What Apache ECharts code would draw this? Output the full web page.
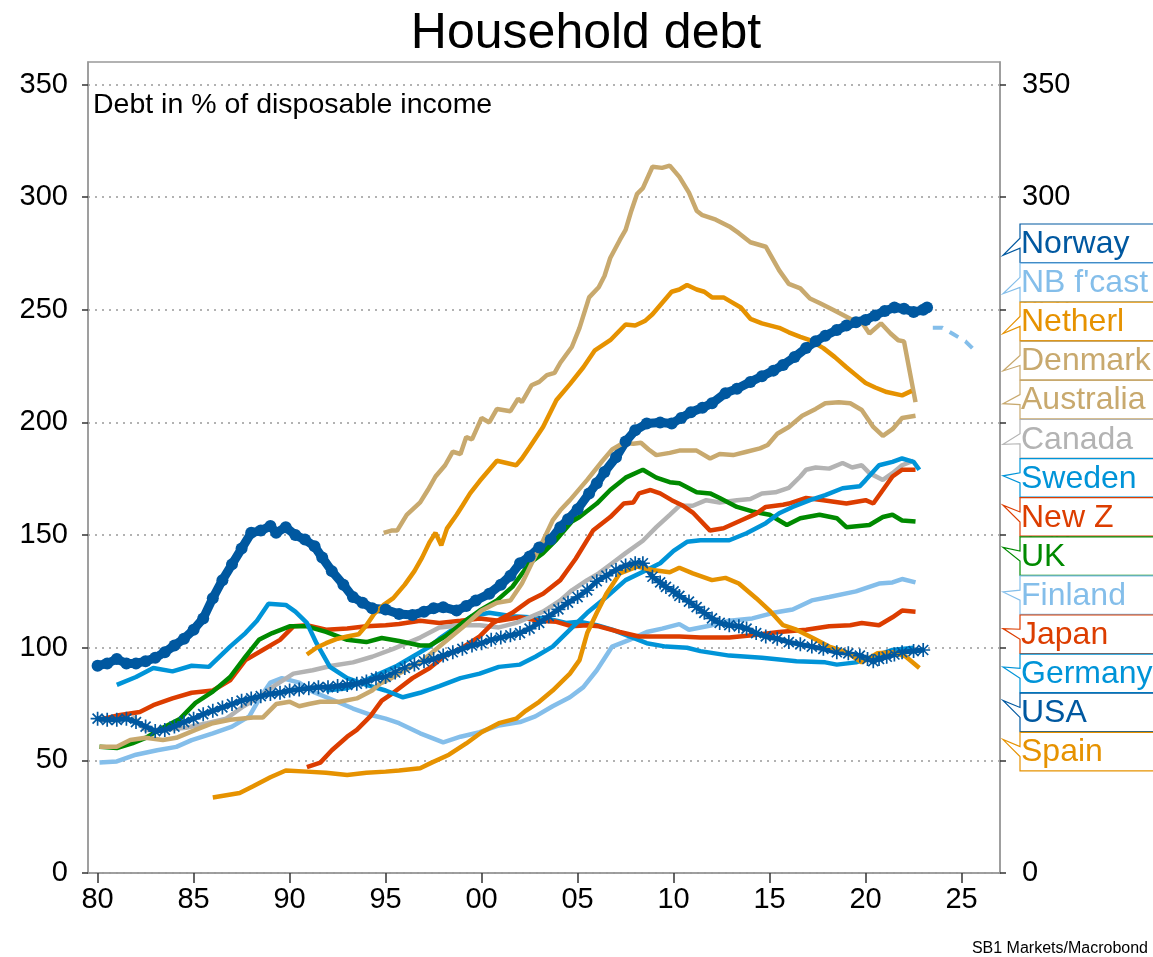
<!DOCTYPE html>
<html>
<head>
<meta charset="utf-8">
<script src="https://cdn.jsdelivr.net/npm/echarts@6/dist/echarts.min.js"></script>
<style>
html,body{margin:0;padding:0;background:#fff;}
#c{width:1153px;height:957px;}
</style>
</head>
<body>
<div id="c"></div>
<script>
// ---------- data ([year, % of disposable income]) ----------
const norway = [[1980.0,92],[1980.5,93],[1981.0,95],[1981.5,93],[1982.0,93],[1982.5,94],[1983.0,95.5],[1983.5,98],[1984.0,101],[1984.5,104],[1985.0,108],[1985.5,113],[1986.0,122],[1986.5,130],[1987.0,137],[1987.5,144],[1988.0,151],[1988.5,152],[1989.0,154],[1989.3,151],[1989.8,153.5],[1990.3,150],[1990.8,148],[1991.3,145],[1991.7,140],[1992.2,134],[1992.8,128],[1993.3,122.5],[1993.8,120],[1994.3,117.5],[1995.0,117],[1995.7,115],[1996.4,114.5],[1997.0,116],[1997.5,117.5],[1998.0,118],[1998.7,116.5],[1999.2,118.5],[1999.7,121],[2000.4,124],[2001.0,128],[2001.5,132],[2002.0,137.5],[2002.5,140.5],[2003.0,144.5],[2003.6,148],[2004.1,153.5],[2004.5,157],[2005.0,161.5],[2005.6,168.5],[2006.0,173],[2006.4,178],[2007.0,184.5],[2007.5,191.5],[2008.0,196.5],[2008.6,199.5],[2009.3,200],[2009.9,199.5],[2010.4,202],[2010.9,204.5],[2011.5,206.5],[2012.0,208.5],[2012.7,213],[2013.3,215],[2014.0,218],[2014.6,220.5],[2015.2,223],[2015.7,225.5],[2016.3,229],[2016.9,233],[2017.4,236],[2017.9,238.5],[2018.5,241],[2019.0,243],[2019.5,244.5],[2020.0,245.5],[2020.5,247.5],[2021.0,249.5],[2021.5,251],[2022.0,250.5],[2022.5,249],[2023.0,250],[2023.2,251]];
const nbForecast = [[2023.5,242],[2024.0,242],[2024.6,239],[2025.2,236],[2025.8,231]];
const netherlands = [[1990.9,97],[1991.4,100],[1991.9,102],[1992.5,104],[1993.0,105],[1993.6,106],[1994.0,110],[1994.4,115],[1994.9,119],[1995.4,122],[1996.0,128],[1996.5,134],[1996.9,140],[1997.3,147],[1997.6,151],[1997.9,145.5],[1998.2,153],[1998.7,159],[1999.0,163],[1999.4,168.5],[1999.9,174],[2000.4,179],[2000.8,183],[2001.3,182],[2001.8,181],[2002.1,184],[2002.5,189],[2003.2,198],[2003.9,210],[2004.6,217],[2005.3,224.5],[2005.9,232],[2006.7,236.5],[2007.5,243.5],[2008.0,243],[2008.5,245],[2008.9,248],[2009.4,253],[2009.9,258],[2010.3,259],[2010.7,261],[2011.2,259],[2011.6,258],[2012.0,255.5],[2012.6,255.5],[2013.0,253.5],[2013.5,251],[2014.0,246],[2014.6,244],[2015.5,242],[2016.0,240],[2016.6,238],[2017.1,236.5],[2017.8,233],[2018.4,229],[2019.0,224.5],[2019.5,221],[2020.0,217.5],[2020.5,215.5],[2021.1,213.5],[2021.9,212],[2022.4,214]];
const denmark = [[1994.9,151],[1995.3,152],[1995.6,152],[1996.1,159],[1996.8,164.5],[1997.2,170],[1997.6,176],[1998.1,181],[1998.5,187],[1998.9,186],[1999.2,193.5],[1999.5,192.5],[2000.0,202],[2000.4,200],[2000.8,206],[2001.5,205],[2001.9,210.5],[2002.1,209],[2002.6,216.5],[2003.0,218],[2003.4,221],[2003.8,222],[2004.1,226.5],[2004.7,233.5],[2005.1,242],[2005.6,255.5],[2006.1,260],[2006.4,265],[2006.7,273],[2007.2,281],[2007.5,285.5],[2007.8,294],[2008.1,301.5],[2008.4,304],[2008.9,313.5],[2009.4,313],[2009.8,314],[2010.3,309],[2010.8,302],[2011.2,294],[2011.5,292],[2012.2,290],[2012.9,287],[2013.4,284],[2014.0,280],[2014.8,278],[2015.5,267.5],[2016.0,261.5],[2016.6,259.5],[2017.1,255],[2017.6,253],[2018.3,250],[2019.2,246],[2019.8,244.5],[2020.2,239.5],[2020.8,244],[2021.3,239.5],[2021.7,236.5],[2022.0,236],[2022.6,209]];
const australia = [[1980.1,56],[1981.0,56],[1981.7,59],[1982.5,60],[1983.4,59],[1984.1,60],[1985.1,63.5],[1986.0,66.5],[1986.9,68],[1988.1,69],[1988.6,69],[1989.3,75],[1990.0,76],[1990.5,74],[1991.0,75],[1991.6,76],[1992.6,76],[1993.5,77.5],[1994.3,81],[1994.7,84],[1995.2,86],[1995.7,88.5],[1996.8,93.5],[1997.8,100.5],[1999.0,109],[2000.0,116.5],[2000.8,120],[2001.5,121],[2002.1,128.5],[2002.7,139],[2003.2,147.5],[2003.7,156.5],[2004.1,161],[2004.6,165.5],[2005.5,174.5],[2006.3,183],[2006.8,188],[2007.4,191],[2007.9,190.5],[2008.3,191],[2008.7,188],[2009.1,185.5],[2009.8,186.5],[2010.3,187.5],[2011.2,187.5],[2011.9,184],[2012.4,186],[2013.1,185.5],[2013.8,187],[2014.5,188.5],[2014.9,190],[2015.4,195],[2016.0,198],[2016.7,203],[2017.4,206],[2017.9,208.5],[2018.6,209],[2019.2,208.5],[2019.8,205.5],[2020.4,198],[2020.9,194],[2021.4,197],[2021.9,202],[2022.6,203]];
const canada = [[1981.8,69.5],[1982.5,63.5],[1983.4,63.5],[1984.6,64.5],[1985.7,66.5],[1986.7,68.5],[1987.6,74],[1988.4,78],[1989.1,82.5],[1990.2,88.5],[1991.2,90],[1992.2,92],[1993.3,93.5],[1994.3,96],[1995.4,99.5],[1996.8,104.5],[1997.8,109],[1998.9,110],[1999.9,110],[2000.9,109],[2001.8,111],[2002.5,113.5],[2003.2,116],[2004.1,121],[2004.7,125.5],[2005.5,130],[2006.1,133],[2006.8,137.5],[2007.5,142],[2008.4,147.5],[2009.1,153.5],[2009.8,159],[2010.3,163],[2011.0,163],[2011.7,165.5],[2012.4,164.5],[2013.3,165.5],[2014.0,166],[2014.6,168.5],[2015.3,169],[2016.0,171],[2016.6,176],[2016.9,179],[2017.4,180],[2018.1,179.5],[2018.8,182],[2019.3,180],[2019.8,181],[2020.2,177.5],[2020.9,174.5],[2021.4,177.5],[2021.9,181],[2022.5,183]];
const sweden = [[1981.0,83.5],[1982.0,87],[1982.9,91],[1983.9,89.5],[1984.9,92],[1985.8,91.5],[1986.9,100.5],[1987.7,106.5],[1988.3,112],[1988.9,119.5],[1989.8,119],[1990.3,116],[1990.9,111],[1991.4,102],[1992.1,91.5],[1993.0,86.5],[1994.0,83.5],[1995.0,81],[1995.9,78],[1996.8,80],[1997.8,83],[1998.9,86.5],[1999.9,88.5],[2000.9,91.5],[2002.0,92.5],[2002.8,96],[2003.7,100.5],[2004.6,108],[2005.5,115.5],[2006.5,122.5],[2007.5,130],[2008.6,134.5],[2009.3,137.5],[2010.0,143],[2010.7,147],[2011.4,147.7],[2012.9,147.7],[2013.8,150.8],[2014.8,155.3],[2015.5,159.7],[2016.2,162.5],[2017.1,165.5],[2017.9,167.7],[2018.8,170.8],[2019.7,171.7],[2020.0,174.4],[2020.7,181],[2021.4,182.5],[2021.9,184],[2022.5,182.5],[2022.8,179]];
const newZealand = [[1990.9,47],[1991.6,49],[1992.2,54.5],[1993.0,60.5],[1993.5,63.5],[1994.2,69.5],[1994.8,76.5],[1995.4,80],[1996.4,86.5],[1997.3,91],[1998.1,96.5],[1999.0,100],[1999.9,105],[2000.6,111],[2001.6,115.5],[2002.5,121],[2003.2,124],[2004.1,130],[2004.9,139.5],[2005.8,152],[2006.7,158],[2007.4,164],[2007.9,164.5],[2008.2,168.5],[2008.8,170],[2009.3,168.5],[2009.9,165.5],[2010.5,163],[2011.0,160],[2011.9,152],[2012.6,153],[2013.5,156.5],[2014.3,159.5],[2014.8,162.5],[2015.7,163.5],[2016.0,164],[2016.9,166.5],[2017.8,165.5],[2019.0,164],[2020.0,165.5],[2020.4,164],[2020.9,170],[2021.4,176],[2021.9,179],[2022.6,179]];
const uk = [[1980.1,56],[1981.0,55.5],[1981.8,57.5],[1982.5,60],[1983.4,64.5],[1984.3,68.5],[1985.1,75.5],[1986.0,80.5],[1986.9,87],[1987.7,96],[1988.4,103.5],[1989.1,106.5],[1990.0,109.5],[1990.9,109.5],[1991.9,107],[1993.0,103.5],[1994.0,102.5],[1994.8,104.3],[1995.7,103],[1996.8,101],[1997.3,101],[1998.1,105],[1999.0,111],[1999.9,116.5],[2000.8,121],[2001.6,127],[2002.5,137.5],[2003.2,142],[2003.9,148],[2004.7,156],[2005.1,158],[2006.0,164],[2006.7,170],[2007.5,175.5],[2008.4,179],[2009.1,175.5],[2009.8,173.5],[2010.3,173],[2011.2,169],[2011.9,168.5],[2012.4,166.5],[2013.3,162.5],[2014.1,160.5],[2015.0,159],[2015.9,154.5],[2016.6,157.5],[2017.6,159],[2018.5,157.5],[2019.0,153.5],[2020.2,154.5],[2020.9,158],[2021.4,159],[2021.9,156.5],[2022.6,156]];
const finland = [[1980.1,49],[1981.0,49.5],[1982.0,52.5],[1983.1,54.5],[1984.1,56],[1984.9,59],[1986.0,62],[1987.0,65],[1987.9,69.5],[1988.4,77],[1989.0,84.5],[1989.6,86.5],[1990.5,84.5],[1991.2,80.5],[1992.2,77],[1993.3,73],[1994.3,70],[1995.0,68.5],[1995.7,66.5],[1996.8,62],[1998.0,58],[1998.9,60.5],[1999.9,62.5],[2000.9,65.5],[2002.0,67],[2002.8,69.5],[2003.7,74],[2004.6,78],[2005.3,82.5],[2006.0,90],[2006.8,100.5],[2007.7,103.5],[2008.6,107],[2009.4,108.5],[2010.3,110.5],[2010.8,108],[2012.0,110],[2012.9,112],[2014.1,113],[2015.2,115.5],[2016.2,117],[2017.2,121],[2018.1,122.5],[2019.5,125],[2020.0,126.5],[2020.7,128.5],[2021.4,129],[2021.9,130.5],[2022.6,129]];
const japan = [[1980.1,68],[1981.1,70],[1982.2,71.5],[1982.9,74.5],[1983.9,77.5],[1984.9,80],[1986.0,81],[1986.9,85.5],[1987.7,94.5],[1988.6,99],[1989.5,103.5],[1990.2,109.5],[1990.9,110],[1991.9,108],[1993.0,108.5],[1994.0,109.5],[1995.0,110],[1995.7,110.5],[1996.8,112],[1997.8,111],[1998.9,112],[1999.9,113],[2000.9,112],[2002.0,113.5],[2003.0,112],[2003.9,111.5],[2004.7,109.5],[2005.5,110],[2006.1,109.5],[2007.2,107],[2008.2,105],[2009.3,105],[2010.3,105],[2011.4,104.5],[2012.9,104.5],[2014.1,105.5],[2015.5,107],[2016.9,108],[2018.1,109.5],[2019.2,110],[2019.8,111],[2020.7,110],[2021.4,113.5],[2021.9,116.5],[2022.6,116]];
const germany = [[1991.9,81],[1993.0,82],[1993.8,85],[1994.7,88.5],[1995.6,92],[1996.4,96],[1997.3,100.5],[1997.8,104],[1998.9,110.5],[1999.5,114],[2000.4,115.5],[2001.6,114],[2002.5,113.5],[2003.4,113],[2004.4,111],[2005.1,111.5],[2006.0,110],[2006.8,108],[2007.7,105],[2008.6,102],[2009.6,100.5],[2010.7,100],[2011.4,98.5],[2012.9,96.5],[2014.6,95.5],[2016.4,94],[2017.9,93.5],[2018.5,92.5],[2019.5,93.5],[2020.4,96],[2021.4,99],[2022.5,100]];
const usa = [[1980.0,68.5],[1980.5,68],[1981.0,68],[1981.5,68.5],[1982.0,67],[1982.5,65],[1983.0,63],[1983.5,63.5],[1984.0,65],[1984.5,67],[1985.0,68.5],[1985.5,70.5],[1986.0,72],[1986.5,73.5],[1987.0,75],[1987.5,76.5],[1988.0,77.5],[1988.5,78.5],[1989.0,79.5],[1989.5,80],[1990.0,81],[1990.5,81.5],[1991.0,82],[1991.5,82.5],[1992.0,82.5],[1992.5,83],[1993.0,83.5],[1993.5,84],[1994.0,85],[1994.5,86.5],[1995.0,87],[1995.5,89],[1996.0,91],[1996.5,92.5],[1997.0,94],[1997.5,95],[1998.0,96.5],[1998.5,98],[1999.0,99.5],[1999.5,101],[2000.0,102],[2000.5,103.5],[2001.0,104.5],[2001.5,105.5],[2002.0,106.5],[2002.5,108.5],[2003.0,111],[2003.5,114],[2004.0,117],[2004.5,120],[2005.0,122.5],[2005.5,125.5],[2006.0,129.5],[2006.5,132],[2007.0,134.5],[2007.5,136.5],[2008.0,137.5],[2008.4,137.5],[2008.9,131.5],[2009.3,129],[2009.6,127],[2010.0,125],[2010.3,123],[2010.8,120.5],[2011.2,118],[2011.6,115.5],[2012.0,113],[2012.4,111],[2012.9,110],[2013.4,109.5],[2013.8,108.5],[2014.3,106.5],[2014.8,105],[2015.4,104],[2016.0,102.5],[2016.6,101.5],[2017.2,100.5],[2017.8,99.5],[2018.5,98],[2019.1,97.5],[2019.7,96.5],[2020.1,95],[2020.4,94],[2020.7,95],[2021.1,96],[2021.5,97],[2021.9,98],[2022.5,98.5],[2023.0,99]];
const spain = [[1986.0,33.5],[1986.7,34.5],[1987.4,35.5],[1988.1,38.5],[1989.0,42.5],[1989.8,45.5],[1990.9,45],[1991.9,44.5],[1993.0,43.5],[1994.0,44.5],[1995.0,45],[1995.7,45.5],[1996.8,46.5],[1997.4,49],[1998.3,52.5],[1999.2,57.5],[2000.0,62.5],[2000.9,66.5],[2001.8,68.5],[2002.3,72],[2003.0,76],[2003.7,81],[2004.6,88.5],[2005.1,94.5],[2005.5,106.5],[2006.0,115.5],[2006.5,124],[2007.2,133],[2008.1,136],[2008.9,134.5],[2009.8,133.5],[2010.3,135.5],[2011.0,133],[2012.0,130],[2012.7,131],[2013.4,128.5],[2014.3,122],[2015.0,116.5],[2015.7,110],[2016.4,108],[2017.2,104.5],[2018.1,100.5],[2019.0,98],[2019.8,93.5],[2020.6,97.5],[2021.4,98],[2022.1,96],[2022.8,91]];

const xTicks = [1980,1985,1990,1995,2000,2005,2010,2015,2020,2025];
const yTicks = [0,50,100,150,200,250,300,350];
const labelNames = ["Norway","NB f'cast","Netherl","Denmark","Australia","Canada","Sweden","New Z","UK","Finland","Japan","Germany","USA","Spain"];

// ---------- styling ----------
const FONT = '"Liberation Sans", Arial, sans-serif';
const C = {
  norway:'#0058A0', nb:'#84BEEA', neth:'#E69200', tan:'#C8A96E', canada:'#B3B3B3',
  sweden:'#0094D8', red:'#DC3D00', green:'#008A00', finland:'#84BEEA', germany:'#0094D8',
  usa:'#0058A0', spain:'#E69200'
};
const asterisk = 'path://M0 8.8H20V11.2H0Z M8.8 0H11.2V20H8.8Z M2 3.7L3.7 2L18 16.3L16.3 18Z M16.3 2L18 3.7L3.7 18L2 16.3Z';

function line(name, data, color, extra) {
  return Object.assign({
    name, type:'line', data, showSymbol:false, symbol:'none',
    lineStyle:{color, width:4.5}, itemStyle:{color}, animation:false, silent:true
  }, extra || {});
}

const seriesDefs = {
  "Norway": line('Norway', norway, C.norway, {showSymbol:true, symbol:'circle', symbolSize:12, lineStyle:{color:C.norway, width:9}}),
  "NB f'cast": line("NB f'cast", nbForecast, C.nb, {lineStyle:{color:C.nb, width:4, type:[10,8]}}),
  "Finland": line('Finland', finland, C.finland),
  "Germany": line('Germany', germany, C.germany),
  "Japan": line('Japan', japan, C.red),
  "Canada": line('Canada', canada, C.canada),
  "UK": line('UK', uk, C.green),
  "New Z": line('New Z', newZealand, C.red),
  "Sweden": line('Sweden', sweden, C.sweden),
  "USA": line('USA', usa, C.usa, {showSymbol:true, symbol:asterisk, symbolSize:14, lineStyle:{color:C.usa, width:5}}),
  "Australia": line('Australia', australia, C.tan),
  "Denmark": line('Denmark', denmark, C.tan),
  "Netherl": line('Netherl', netherlands, C.neth),
  "Spain": line('Spain', spain, C.spain)
};
const drawOrder = ["Norway","NB f'cast","Finland","Germany","Japan","Canada","UK","New Z","Sweden","USA","Australia","Denmark","Netherl","Spain"];

const chart = echarts.init(document.getElementById('c'), null, {renderer:'canvas'});

const axisLabelStyle = {color:'#000', fontSize:29, fontFamily:FONT};
chart.setOption({
  backgroundColor:'#fff',
  animation:false,
  grid:{left:88, right:153, top:62, bottom:84, show:true, borderColor:'#999', borderWidth:1.5, backgroundColor:'transparent'},
  xAxis:{
    type:'value', min:1979.5, max:2027,
    axisLine:{show:true, lineStyle:{color:'#999', width:1.5}},
    axisTick:{show:true, customValues:xTicks, length:10, lineStyle:{color:'#333', width:1.5}},
    axisLabel:Object.assign({customValues:xTicks, margin:12, formatter:v=>String(v%100).padStart(2,'0')}, axisLabelStyle),
    splitLine:{show:false}
  },
  yAxis:[{
    type:'value', min:0, max:360, position:'left',
    axisLine:{show:true, lineStyle:{color:'#999', width:1.5}},
    axisTick:{show:true, customValues:yTicks, length:6, lineStyle:{color:'#333', width:1.5}},
    axisLabel:Object.assign({customValues:yTicks, margin:20}, axisLabelStyle),
    splitLine:{show:true, lineStyle:{color:'#999', width:1.5, type:[2,5]}}
  },{
    type:'value', min:0, max:360, position:'right',
    axisLine:{show:true, lineStyle:{color:'#999', width:1.5}},
    axisTick:{show:true, customValues:yTicks, length:6, lineStyle:{color:'#333', width:1.5}},
    axisLabel:Object.assign({customValues:yTicks, margin:22}, axisLabelStyle),
    splitLine:{show:false}
  }],
  series: drawOrder.map(n => seriesDefs[n])
});

// ---------- text and flag labels ----------
const graphics = [
  {type:'text', x:586, y:34, z:200, style:{text:'Household debt', font:'50px '+FONT, fill:'#000', textAlign:'center', textVerticalAlign:'middle', align:'center', verticalAlign:'middle'}},
  {type:'text', x:93, y:105, z:200, style:{text:'Debt in % of disposable income', font:'28.5px '+FONT, fill:'#000', textAlign:'left', textVerticalAlign:'middle', align:'left', verticalAlign:'middle'}},
  {type:'text', x:1148, y:949, z:200, style:{text:'SB1 Markets/Macrobond', font:'16px '+FONT, fill:'#000', textAlign:'right', textVerticalAlign:'middle', align:'right', verticalAlign:'middle'}}
];
const boxLeft = 1020, tipX = 1003, boxTop0 = 224, boxStep = 39.1, boxH = 38.5;
labelNames.forEach((name, i) => {
  const s = seriesDefs[name];
  const d = s.data;
  const refVal = name === "NB f'cast" ? d[0][1] : d[d.length-1][1];
  const vy = chart.convertToPixel({yAxisIndex:0}, refVal);
  const top = boxTop0 + i*boxStep, bot = top + boxH, c = (top+bot)/2;
  const off = Math.max(-12, Math.min(12, (vy - c)*0.25));
  const col = s.lineStyle.color;
  graphics.push({
    type:'polygon', z:150,
    shape:{points:[[boxLeft,top],[1165,top],[1165,bot],[boxLeft,bot],[boxLeft,c+5],[tipX,c+off],[boxLeft,c-5]]},
    style:{fill:'#fff', stroke:col, lineWidth:1.2}
  });
  graphics.push({
    type:'text', x:1021, y:c+1, z:160,
    style:{text:name, font:'32px '+FONT, fill:col, textAlign:'left', textVerticalAlign:'middle', align:'left', verticalAlign:'middle'}
  });
});
chart.setOption({graphic:graphics});
</script>
</body>
</html>
